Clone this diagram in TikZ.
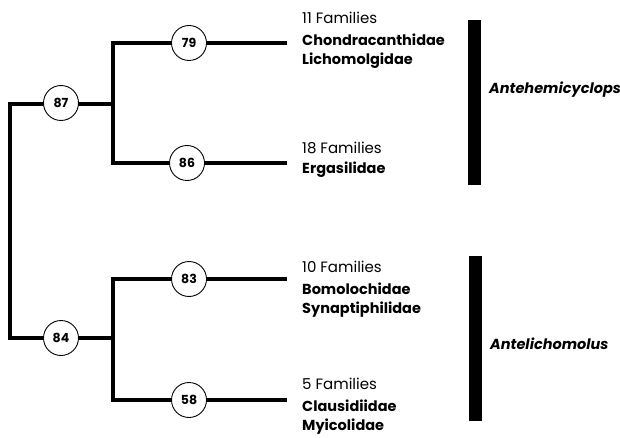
\documentclass[tikz,border=0pt]{standalone}
\usepackage{fontspec}
\setmainfont{Poppins}
\begin{document}
\begin{tikzpicture}[x=1pt,y=-1pt,
  branch/.style={line width=3.6pt},
  support/.style={circle,draw,line width=0.9pt,fill=white,minimum size=35pt,inner sep=0pt,font=\fontsize{12.5}{12.5}\selectfont\bfseries},
  count/.style={anchor=west,inner sep=0pt,font=\fontsize{15}{15}\selectfont},
  family/.style={anchor=west,inner sep=0pt,font=\fontsize{14.5}{15}\selectfont\bfseries},
  genus/.style={anchor=west,inner sep=0pt,font=\fontsize{14.5}{15}\selectfont\bfseries\itshape},
  groupbar/.style={fill=black}]
\useasboundingbox (0,0) rectangle (620,438);
\clip (0,0) rectangle (620,438);
% tree skeleton
\coordinate (r1) at (10,104);
\coordinate (r2) at (10,338);
\coordinate (a) at (113,104);
\coordinate (b) at (113,338);
\coordinate (a1) at (113,43);
\coordinate (a2) at (113,163);
\coordinate (b1) at (113,279);
\coordinate (b2) at (113,400);
\coordinate (t1) at (287,43);
\coordinate (t2) at (287,163);
\coordinate (t3) at (287,279);
\coordinate (t4) at (287,400);
\draw[branch,line join=miter] (a) -- (r1) -- (r2) -- (b);
\draw[branch,line join=miter] (t1) -- (a1) -- (a2) -- (t2);
\draw[branch,line join=miter] (t3) -- (b1) -- (b2) -- (t4);
% support values
\node[support] (n87) at (61,103) {87};
\node[support] (n84) at (61,338) {84};
\node[support] (n79) at (189,43) {79};
\node[support] (n86) at (187,163) {86};
\node[support] (n83) at (189,279) {83};
\node[support] (n58) at (189,400) {58};
% terminal labels
\node[count] (c1) at (302,18) {11 Families};
\node[family] (f1) at (302,40) {Chondracanthidae};
\node[family] (f2) at (302,61) {Lichomolgidae};
\node[count] (c2) at (302,148) {18 Families};
\node[family] (f3) at (302,170) {Ergasilidae};
\node[count] (c3) at (302,267) {10 Families};
\node[family] (f4) at (302,289) {Bomolochidae};
\node[family] (f5) at (302,310) {Synaptiphilidae};
\node[count] (c4) at (302,384) {5 Families};
\node[family] (f6) at (302,406) {Clausidiidae};
\node[family] (f7) at (302,427) {Myicolidae};
% genus brackets
\fill[groupbar] (468,20) rectangle (481,185);
\fill[groupbar] (469,256) rectangle (482,421);
\node[genus] (g1) at (489,90) {Antehemicyclops};
\node[genus] (g2) at (490,344) {Antelichomolus};
\end{tikzpicture}
\end{document}
